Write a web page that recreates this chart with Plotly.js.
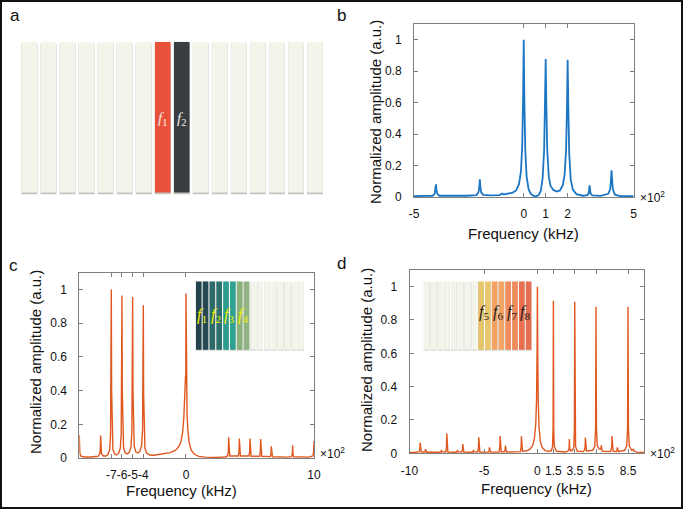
<!DOCTYPE html>
<html><head><meta charset="utf-8">
<script src="https://cdn.plot.ly/plotly-3.0.1.min.js"></script>
<style>html,body{margin:0;padding:0;background:#fff;}#chart{width:685px;height:510px;}</style>
</head><body><div id="chart"></div>
<script>
// ===== DATA =====
// panel a: 16 electrode strips, two driven (f1, f2)
const stripSlots   = [1,2,3,4,5,6,7,8,9,10,11,12,13,14,15,16];
const stripHeights = [1,1,1,1,1,1,1,1,1,1,1,1,1,1,1,1];
const stripLabelsA = ['1','2'];
const stripLabelSlotsA = [8,9];
// inset c / d labels
const insetLabelsC = ['1','2','3','4'];
const insetLabelSlotsC = [1.5,3.5,5.5,7.5];
const insetLabelsD = ['5','6','7','8'];
const insetLabelSlotsD = [9.5,11.5,13.5,15.5];

// panel b spectrum (x in units of 10^2 kHz)
const bFreq = [-5.0,-4.5,-4.15,-4.06,-4.02,-4.0,-3.98,-3.94,-3.85,-3.2,-2.6,-2.15,-2.06,-2.02,-2.0,-1.98,-1.94,-1.85,-1.5,-1.1,-1.03,-0.98,-0.92,-0.7,-0.5,-0.35,-0.22,-0.13,-0.07,-0.03,0,0.03,0.07,0.13,0.22,0.32,0.45,0.55,0.68,0.78,0.86,0.93,0.97,1.0,1.03,1.07,1.14,1.22,1.35,1.5,1.65,1.78,1.86,1.93,1.97,2.0,2.03,2.07,2.14,2.24,2.4,2.7,2.9,2.96,3.0,3.04,3.12,3.5,3.85,3.94,3.97,4.0,4.03,4.06,4.15,4.4,5.0];
const bAmp  = [0.006,0.006,0.008,0.02,0.05,0.08,0.05,0.02,0.008,0.006,0.008,0.012,0.03,0.07,0.112,0.07,0.03,0.013,0.01,0.012,0.018,0.022,0.016,0.02,0.028,0.042,0.08,0.16,0.32,0.62,1.0,0.6,0.3,0.13,0.05,0.02,0.007,0.004,0.012,0.04,0.12,0.3,0.58,0.878,0.58,0.3,0.13,0.07,0.045,0.035,0.042,0.075,0.14,0.3,0.58,0.873,0.58,0.28,0.11,0.045,0.018,0.008,0.012,0.025,0.074,0.025,0.01,0.007,0.02,0.05,0.1,0.17,0.1,0.05,0.015,0.006,0.005];

// panel c spectrum
const cFreq = [-10,-9.98,-9.95,-9.88,-9.6,-8.9,-8.25,-8.08,-8.03,-8.0,-7.97,-7.92,-7.75,-7.5,-7.3,-7.15,-7.07,-7.03,-7.0,-6.97,-6.93,-6.85,-6.7,-6.5,-6.3,-6.15,-6.07,-6.03,-6.0,-5.97,-5.93,-5.85,-5.7,-5.5,-5.3,-5.15,-5.07,-5.03,-5.0,-4.97,-4.93,-4.85,-4.7,-4.5,-4.3,-4.15,-4.07,-4.03,-4.0,-3.97,-3.93,-3.85,-3.7,-3.4,-3.0,-2.5,-2.0,-1.5,-1.0,-0.7,-0.5,-0.32,-0.2,-0.12,-0.07,-0.04,-0.02,0,0.02,0.05,0.1,0.18,0.3,0.5,0.8,1.2,1.8,2.8,3.7,3.9,3.97,4.0,4.03,4.1,4.9,4.97,5.0,5.03,5.1,5.9,5.97,6.0,6.03,6.1,6.9,6.97,7.0,7.03,7.1,7.9,7.97,8.0,8.03,8.1,9.5,9.9,9.97,10.0,10.03,10.1,11.5,11.9,11.96,12.0];
const cAmp  = [0.135,0.07,0.03,0.012,0.006,0.006,0.01,0.025,0.06,0.133,0.06,0.025,0.012,0.012,0.022,0.05,0.14,0.4,1.0,0.4,0.14,0.05,0.025,0.018,0.03,0.06,0.15,0.4,0.965,0.4,0.15,0.06,0.03,0.024,0.035,0.07,0.16,0.4,0.956,0.4,0.16,0.07,0.035,0.03,0.042,0.08,0.17,0.4,0.907,0.38,0.14,0.06,0.03,0.018,0.016,0.02,0.025,0.032,0.045,0.065,0.09,0.15,0.24,0.34,0.43,0.49,0.44,0.976,0.5,0.38,0.26,0.16,0.09,0.045,0.022,0.01,0.005,0.004,0.006,0.012,0.04,0.123,0.04,0.012,0.012,0.04,0.115,0.04,0.012,0.012,0.04,0.115,0.04,0.01,0.01,0.04,0.113,0.04,0.01,0.008,0.025,0.069,0.025,0.007,0.005,0.008,0.025,0.075,0.025,0.007,0.005,0.012,0.035,0.1];

// panel d spectrum
const dFreq = [-12,-11.5,-11.1,-11.03,-11.0,-10.97,-10.9,-10.6,-10.53,-10.5,-10.47,-10.4,-10.03,-10,-9.97,-9.1,-9.03,-9.0,-8.97,-8.6,-8.53,-8.5,-8.47,-8.4,-7.6,-7.53,-7.5,-7.47,-7.1,-7.03,-7.0,-6.97,-6.9,-6.1,-6.03,-6.0,-5.97,-5.6,-5.53,-5.5,-5.47,-5.4,-4.6,-4.53,-4.5,-4.47,-4.4,-3.6,-3.53,-3.5,-3.47,-3.4,-3.1,-3.03,-3.0,-2.97,-2.9,-1.6,-1.53,-1.5,-1.47,-1.4,-1.0,-0.7,-0.45,-0.28,-0.16,-0.08,-0.03,0,0.03,0.08,0.16,0.28,0.45,0.7,1.0,1.3,1.42,1.47,1.5,1.53,1.58,1.8,2.6,2.9,2.97,3.0,3.03,3.1,3.3,3.42,3.47,3.5,3.53,3.58,3.75,4.3,4.42,4.47,4.5,4.53,4.6,5.2,5.38,5.46,5.5,5.54,5.62,5.8,5.93,5.97,6.0,6.03,6.1,6.85,6.97,7.0,7.03,7.1,7.4,7.47,7.5,7.53,7.6,8.2,8.38,8.46,8.5,8.54,8.62,8.85,8.95,9.0,9.05,9.3,10];
const dAmp  = [0.005,0.005,0.01,0.025,0.064,0.025,0.008,0.008,0.012,0.025,0.012,0.006,0.006,0.01,0.006,0.006,0.01,0.02,0.01,0.008,0.04,0.118,0.04,0.008,0.006,0.01,0.02,0.01,0.008,0.02,0.056,0.02,0.007,0.006,0.01,0.02,0.01,0.008,0.035,0.096,0.035,0.008,0.007,0.015,0.036,0.015,0.007,0.008,0.035,0.104,0.035,0.009,0.009,0.018,0.046,0.018,0.008,0.01,0.035,0.102,0.035,0.012,0.015,0.025,0.045,0.09,0.17,0.32,0.62,1.0,0.6,0.3,0.15,0.07,0.035,0.018,0.012,0.015,0.04,0.15,0.915,0.15,0.04,0.012,0.008,0.015,0.03,0.086,0.03,0.015,0.018,0.04,0.15,0.91,0.15,0.04,0.012,0.01,0.02,0.035,0.094,0.035,0.014,0.018,0.04,0.15,0.88,0.15,0.045,0.025,0.025,0.035,0.048,0.03,0.012,0.01,0.035,0.104,0.035,0.012,0.01,0.018,0.036,0.018,0.01,0.018,0.045,0.15,0.88,0.15,0.045,0.018,0.02,0.024,0.015,0.007,0.005];

// tick labels
const ampTickVals = [0,0.2,0.4,0.6,0.8,1];
const ampTickText = ['0','0.2','0.4','0.6','0.8','1'];
const bTickVals = [-5,0,1,2,5];
const bTickText = ['-5','0','1','2','5'];
const cTickVals = [-7,-6,-5,-4,0,12];
const cTickText = ['-7','-6','-5','-4','0','10'];
const dTickVals = [-12,-5,0,1.5,3.5,5.5,8.5];
const dTickText = ['-10','-5','0','1.5','3.5','5.5','8.5'];

// ===== STYLE =====
const W = 685, H = 510;
const PX = x => x / W, PY = y => 1 - y / H;
const LIGHT = '#f3f4ea';
const colorsA = [LIGHT,LIGHT,LIGHT,LIGHT,LIGHT,LIGHT,LIGHT,'#e8513a','#393e43',LIGHT,LIGHT,LIGHT,LIGHT,LIGHT,LIGHT,LIGHT];
const colorsC = ['#22434d','#254853','#2b6c6b','#2d706e','#2a9d8f','#2da291','#8ab07c','#8fb482',LIGHT,LIGHT,LIGHT,LIGHT,LIGHT,LIGHT,LIGHT,LIGHT];
const colorsD = [LIGHT,LIGHT,LIGHT,LIGHT,LIGHT,LIGHT,LIGHT,LIGHT,'#e8c46b','#eac66e','#f4a261','#f4a566','#f08c5e','#ef8a5b','#e8704f','#e76f51'];
const FONT = 'Liberation Sans, Arial, sans-serif';
const AX = '#808080';

function specAxisX(dom, range, tv, tt){
  return {domain: dom, range: range, anchor: null, showline: true, linecolor: AX, linewidth: 1, mirror: 'ticks',
    ticks: 'inside', ticklen: 4, tickcolor: AX, tickvals: tv, ticktext: tt, tickangle: 0,
    showgrid: false, zeroline: false, tickfont: {family: FONT, size: 12, color: '#111'}, ticklabelstandoff: 6};
}
function specAxisY(dom){
  return {domain: dom, range: [0,1.1], showline: true, linecolor: AX, linewidth: 1, mirror: 'ticks',
    ticks: 'inside', ticklen: 4, tickcolor: AX, tickvals: ampTickVals, ticktext: ampTickText,
    showgrid: false, zeroline: false, tickfont: {family: FONT, size: 12, color: '#111'}, ticklabelstandoff: 9};
}
const hidden = (dom, range) => ({domain: dom, range: range, visible: false, fixedrange: true});

const xb = specAxisX([PX(414), PX(633.5)], [-5,5], bTickVals, bTickText); xb.anchor = 'y';
const yb = specAxisY([PY(197), PY(24)]); yb.anchor = 'x';
const xc = specAxisX([PX(79.3), PX(314)], [-10,12], cTickVals, cTickText); xc.anchor = 'y2';
const yc = specAxisY([PY(458), PY(272.7)]); yc.anchor = 'x2';
const xd = specAxisX([PX(409.5), PX(644)], [-12,10], dTickVals, dTickText); xd.anchor = 'y3';
const yd = specAxisY([PY(453.3), PY(270)]); yd.anchor = 'x3';

const traces = [
  {x: bFreq, y: bAmp, xaxis: 'x', yaxis: 'y', type: 'scatter', mode: 'lines', line: {color: '#1b76c4', width: 1.8}},
  {x: cFreq, y: cAmp, xaxis: 'x2', yaxis: 'y2', type: 'scatter', mode: 'lines', line: {color: '#e0581f', width: 1.4}},
  {x: dFreq, y: dAmp, xaxis: 'x3', yaxis: 'y3', type: 'scatter', mode: 'lines', line: {color: '#e0581f', width: 1.4}},
];
// strips: shadow + body
function strips(xa, ya, colors){
  traces.push({x: stripSlots, y: stripHeights, base: -0.014, width: 0.84, type: 'bar', xaxis: xa, yaxis: ya,
    marker: {color: '#c4c4bf', line: {width: 0}}});
  traces.push({x: stripSlots, y: stripHeights, base: 0, width: 0.82, type: 'bar', xaxis: xa, yaxis: ya,
    marker: {color: colors, line: {width: 0}}});
}
strips('x4','y4', colorsA);
strips('x5','y5', colorsC);
strips('x6','y6', colorsD);

const ann = [];
const txt = (x, y, t, size, extra) => ann.push(Object.assign({xref: 'paper', yref: 'paper', x: PX(x), y: PY(y), text: t,
  showarrow: false, xanchor: 'center', yanchor: 'middle', font: {family: FONT, size: size, color: '#111'}}, extra || {}));
txt(15, 15, 'a', 17); txt(341, 15, 'b', 17); txt(13, 265, 'c', 17); txt(341, 263, 'd', 17);
txt(375, 112, 'Normalized amplitude (a.u.)', 15, {textangle: -90});
txt(35, 362, 'Normalized amplitude (a.u.)', 15, {textangle: -90});
txt(366, 360, 'Normalized amplitude (a.u.)', 15, {textangle: -90});
txt(523, 234, 'Frequency (kHz)', 15); txt(181, 490, 'Frequency (kHz)', 15); txt(536, 488, 'Frequency (kHz)', 15);
txt(638, 197, '×10<sup>2</sup>', 12, {xanchor: 'left'});
txt(318, 453, '×10<sup>2</sup>', 12, {xanchor: 'left'});
txt(648, 453, '×10<sup>2</sup>', 12, {xanchor: 'left'});
const SERIF = 'Liberation Serif, DejaVu Serif, serif';
stripLabelsA.forEach((s, i) => ann.push({xref: 'x4', yref: 'y4', x: stripLabelSlotsA[i], y: 0.49, text: '<i>f</i><sub>' + s + '</sub>',
  showarrow: false, font: {family: SERIF, size: 15, color: '#f4ece6'}}));
insetLabelsC.forEach((s, i) => ann.push({xref: 'x5', yref: 'y5', x: insetLabelSlotsC[i], y: 0.5, text: '<i>f</i><sub>' + s + '</sub>',
  showarrow: false, font: {family: SERIF, size: 16, color: '#f0f000'}}));
insetLabelsD.forEach((s, i) => ann.push({xref: 'x6', yref: 'y6', x: insetLabelSlotsD[i], y: 0.55, text: '<i>f</i><sub>' + s + '</sub>',
  showarrow: false, font: {family: SERIF, size: 16, color: '#1a1a1a'}}));

const layout = {
  width: W, height: H, margin: {l: 0, r: 0, t: 0, b: 0}, paper_bgcolor: '#fff', plot_bgcolor: 'rgba(0,0,0,0)',
  showlegend: false, barmode: 'overlay', hovermode: false,
  xaxis: xb, yaxis: yb, xaxis2: xc, yaxis2: yc, xaxis3: xd, yaxis3: yd,
  xaxis4: Object.assign(hidden([PX(20), PX(324.5)], [0.5,16.5]), {anchor: 'y4'}),
  yaxis4: Object.assign(hidden([PY(194.5), PY(41.7)], [-0.014,1]), {anchor: 'x4'}),
  xaxis5: Object.assign(hidden([PX(195.3), PX(304.5)], [0.5,16.5]), {anchor: 'y5'}),
  yaxis5: Object.assign(hidden([PY(350.8), PY(281.3)], [-0.014,1]), {anchor: 'x5'}),
  xaxis6: Object.assign(hidden([PX(423.3), PX(532)], [0.5,16.5]), {anchor: 'y6'}),
  yaxis6: Object.assign(hidden([PY(350.8), PY(281.3)], [-0.014,1]), {anchor: 'x6'}),
  annotations: ann,
  shapes: [{type: 'rect', xref: 'paper', yref: 'paper', x0: PX(1), x1: PX(682), y0: PY(508), y1: PY(1),
    line: {color: '#111', width: 2}, fillcolor: 'rgba(0,0,0,0)'}]
};
Plotly.newPlot('chart', traces, layout, {staticPlot: true, displayModeBar: false});
</script>
</body></html>
